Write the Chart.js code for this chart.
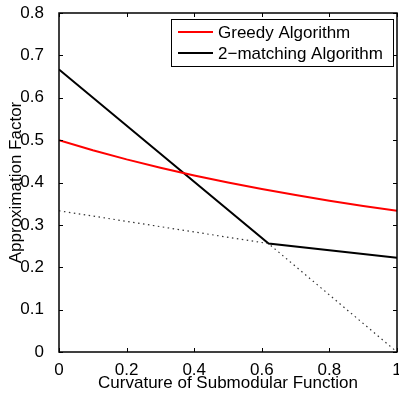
<!DOCTYPE html>
<html><head><meta charset="utf-8">
<script src="https://cdn.jsdelivr.net/npm/chart.js@4.4.0/dist/chart.umd.min.js"></script>
<style>html,body{margin:0;padding:0;background:#fff}#wrap{width:399px;height:395px;position:relative}</style>
</head><body><div id="wrap"><canvas id="c" width="399" height="395"></canvas></div>
<script>
const greedyX = [0, 0.1, 0.2, 0.3, 0.4, 0.5, 0.6, 0.7, 0.8, 0.9, 1];
const greedyY = [0.5, 0.4762, 0.4545, 0.4348, 0.4167, 0.4, 0.3846, 0.3704, 0.3571, 0.3448, 0.3333];
const matchX = [0, 0.62, 1];
const matchY = [0.6667, 0.2558, 0.2222];
const dotX = [0, 0.62, 1];
const dotY = [0.3333, 0.2558, 0];
const xTicks = [0, 0.2, 0.4, 0.6, 0.8, 1];
const yTicks = [0, 0.1, 0.2, 0.3, 0.4, 0.5, 0.6, 0.7, 0.8];
const legendLabels = ['Greedy Algorithm', '2\u2212matching Algorithm'];
const legendColors = ['#ff0000', '#000000'];

const pts = (xs, ys) => xs.map((x, i) => ({x, y: ys[i]}));
const FONT = 'Liberation Sans, Arial, sans-serif';

const framePlugin = {
  id: 'frame',
  afterDatasetsDraw(chart) {
    const {ctx, chartArea: a, scales: {x, y}} = chart;
    ctx.save();
    ctx.strokeStyle = '#000';
    ctx.lineWidth = 1.5;
    ctx.strokeRect(a.left, a.top, a.right - a.left, a.bottom - a.top);
    ctx.lineWidth = 1;
    const tl = 4;
    ctx.beginPath();
    xTicks.forEach(v => {
      const px = Math.round(x.getPixelForValue(v)) + 0.5;
      ctx.moveTo(px, a.bottom); ctx.lineTo(px, a.bottom - tl);
      ctx.moveTo(px, a.top); ctx.lineTo(px, a.top + tl);
    });
    yTicks.forEach(v => {
      const py = Math.round(y.getPixelForValue(v)) + 0.5;
      ctx.moveTo(a.left, py); ctx.lineTo(a.left + tl, py);
      ctx.moveTo(a.right, py); ctx.lineTo(a.right - tl, py);
    });
    ctx.stroke();
    // legend
    const lx = 171, ly = 19, lw = 222, lh = 47;
    ctx.fillStyle = '#fff';
    ctx.fillRect(lx, ly, lw, lh);
    ctx.lineWidth = 1;
    ctx.strokeStyle = '#000';
    ctx.strokeRect(lx + 0.5, ly + 0.5, lw, lh);
    ctx.font = '17px ' + FONT;
    ctx.textBaseline = 'middle';
    legendLabels.forEach((t, i) => {
      const yy = ly + 13 + i * 21;
      ctx.strokeStyle = legendColors[i];
      ctx.lineWidth = 2;
      ctx.beginPath(); ctx.moveTo(178, yy); ctx.lineTo(213, yy); ctx.stroke();
      ctx.fillStyle = '#000';
      ctx.fillText(t, 218, yy + 1);
    });
    ctx.restore();
  }
};

new Chart(document.getElementById('c'), {
  type: 'line',
  data: {
    datasets: [
      {data: pts(dotX, dotY), borderColor: '#333', borderWidth: 1.2, borderDash: [1.5, 3.5], pointRadius: 0, fill: false, tension: 0},
      {data: pts(greedyX, greedyY), borderColor: '#ff0000', borderWidth: 2, pointRadius: 0, fill: false, tension: 0},
      {data: pts(matchX, matchY), borderColor: '#000', borderWidth: 2, pointRadius: 0, fill: false, tension: 0}
    ]
  },
  options: {
    responsive: false, animation: false,
    layout: {padding: {top: 13, right: 2, left: 0, bottom: 0}},
    plugins: {legend: {display: false}, tooltip: {enabled: false}},
    scales: {
      x: {
        type: 'linear', min: 0, max: 1,
        afterFit(s) { s.height = 43; s.paddingLeft = 0; s.paddingRight = 0; },
        afterBuildTicks(s) { s.ticks = xTicks.map(v => ({value: v})); },
        grid: {display: false}, border: {display: false},
        ticks: {color: '#000', font: {family: FONT, size: 17}, padding: 0, maxRotation: 0,
          callback: v => String(v)},
        title: {display: true, text: 'Curvature of Submodular Function', color: '#000',
          font: {family: FONT, size: 17}, padding: {top: 0, bottom: 1}}
      },
      y: {
        type: 'linear', min: 0, max: 0.8,
        afterFit(s) { s.width = 59; s.paddingTop = 0; s.paddingBottom = 0; },
        afterBuildTicks(s) { s.ticks = yTicks.map(v => ({value: v})); },
        grid: {display: false}, border: {display: false},
        ticks: {color: '#000', font: {family: FONT, size: 17}, padding: 7,
          callback: v => String(Math.round(v * 10) / 10)},
        title: {display: true, text: 'Approximation Factor', color: '#000',
          font: {family: FONT, size: 17}, padding: {top: 6, bottom: 0}}
      }
    }
  },
  plugins: [framePlugin]
});
</script></body></html>
